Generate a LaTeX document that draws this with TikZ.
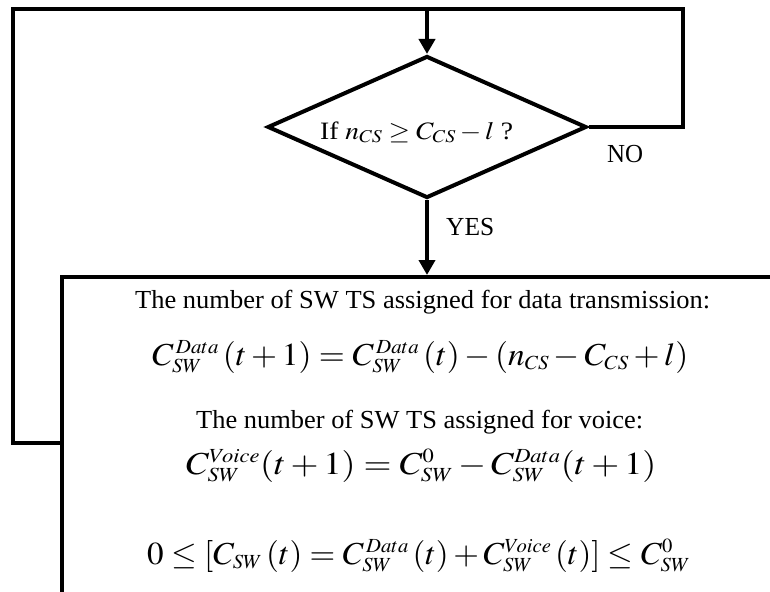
\documentclass[tikz,border=0pt]{standalone}
\usepackage{graphicx}
\usepackage{mathptmx}
\usepackage{fontspec}
\setmainfont{Liberation Serif}
\DeclareMathSizes{32}{32}{20}{14}
\DeclareMathSizes{25}{25}{18}{13}
\usetikzlibrary{shapes.geometric,arrows.meta}
\newcommand{\fitw}[2]{\resizebox{#1}{\height}{#2}}
\tikzset{
  ln/.style={line width=4pt},
  arr/.style={ln,-{Triangle[length=15pt,width=16pt]}},
  lbl/.style={inner sep=0pt,anchor=base west,font=\fontsize{26}{30}\selectfont},
  eqn/.style={inner sep=0pt,anchor=base west,font=\fontsize{32}{38}\selectfont},
}
\begin{document}
\begin{tikzpicture}[x=1pt,y=-1pt]
\useasboundingbox (0,0) rectangle (770,591);
\clip (0,0) rectangle (770,591);
\node[draw,ln,diamond,minimum width=319pt,minimum height=142pt,inner sep=0pt] (dec) at (427,127) {};
\node[inner sep=0pt,anchor=base west,font=\fontsize{25}{30}\selectfont] (q) at (320,139) {\fitw{193pt}{If $n_{CS}\geq C_{CS}-l$ ?}};
\node[draw,ln,rectangle,anchor=north west,minimum width=760pt,minimum height=400pt,inner sep=0pt] (box) at (60,275) {};
\coordinate (tl) at (13,9);
\coordinate (tm) at (427,9);
\coordinate (rr) at (683,127);
\coordinate (loopin) at (60,443);
\draw[ln] (dec.east) -- (rr) |- (tl) |- (loopin);
\draw[arr] (tm) -- (dec.north);
\draw[arr] (dec.south) -- (dec.south |- box.north);
\node[lbl] (no) at (607,162) {\fitw{36pt}{NO}};
\node[lbl] (yes) at (446,235) {\fitw{48pt}{YES}};
\node[lbl] (t1) at (135,308) {\fitw{575pt}{The number of SW TS assigned for data transmission:}};
\node[eqn] (e1) at (152,365) {\fitw{536pt}{$C_{SW}^{\,Data}\,(t+1)=C_{SW}^{\,Data}\,(t)-(n_{CS}-C_{CS}+l)$}};
\node[lbl] (t2) at (196,428) {\fitw{447pt}{The number of SW TS assigned for voice:}};
\node[eqn] (e2) at (186,474) {\fitw{470pt}{$C_{SW}^{Voice}(t+1)=C_{SW}^{0}-C_{SW}^{Data}(t+1)$}};
\node[eqn] (e3) at (147,564) {\fitw{543pt}{$0\leq[C_{SW}\,(t)=C_{SW}^{\,Data}\,(t)+C_{SW}^{Voice}\,(t)]\leq C_{SW}^{0}$}};
\end{tikzpicture}
\end{document}
